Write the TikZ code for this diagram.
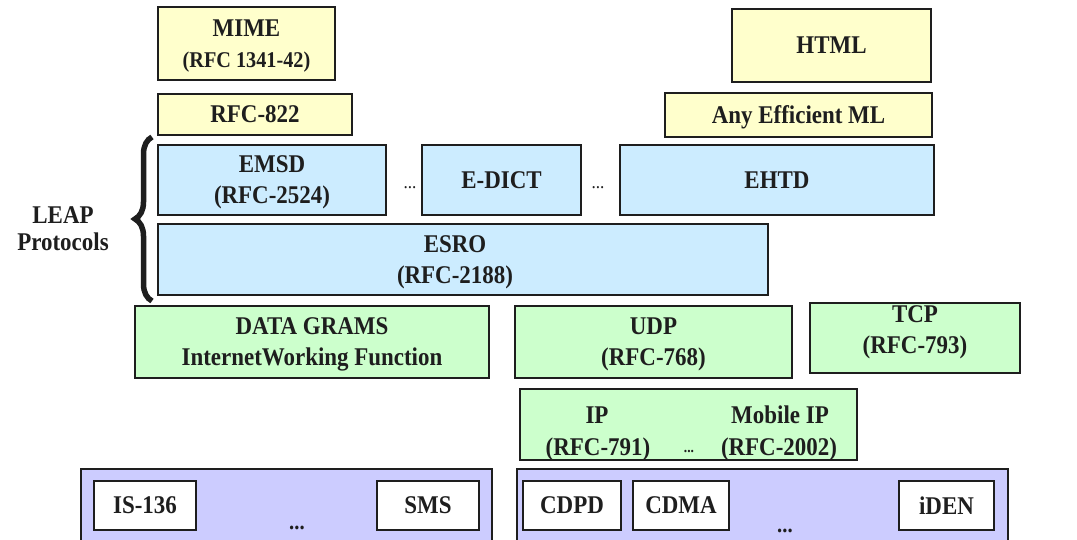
\documentclass[tikz,border=0pt]{standalone}
\usepackage{fontspec}
\setmainfont[FakeStretch=0.9]{Liberation Serif}
\usetikzlibrary{decorations.pathreplacing}
\definecolor{yel}{HTML}{FFFFCC}
\definecolor{blu}{HTML}{CCECFF}
\definecolor{grn}{HTML}{CCFFCC}
\definecolor{lav}{HTML}{CCCCFF}
\definecolor{ink}{HTML}{1E1E1E}
\tikzset{
  box/.style={draw=ink, line width=2.6pt, inner sep=0pt, align=center, text=ink,
    text depth=0pt, font=\fontsize{25.5}{31}\selectfont\bfseries},
  ybox/.style={box, fill=yel},
  bbox/.style={box, fill=blu},
  gbox/.style={box, fill=grn},
  lbox/.style={box, fill=lav},
  wbox/.style={box, fill=white},
  lbl/.style={inner sep=0pt, text=ink, font=\fontsize{25.5}{27}\selectfont\bfseries, anchor=base},
  dots/.style={inner sep=0pt, text=ink, anchor=base},
}
\begin{document}
\begin{tikzpicture}[x=1pt,y=-1pt]
\clip (0,0) rectangle (1077,539);
\fill[white] (0,0) rectangle (1077,539);
% top yellow
\node[ybox, minimum width=177pt, minimum height=73pt] (mime) at (246.5,43.5)
  {MIME\\{\fontsize{22.5}{24}\selectfont (RFC 1341-42)}};
\node[ybox, minimum width=194pt, minimum height=41pt] (rfc822) at (255,114.5) {RFC-822};
\node[ybox, minimum width=199pt, minimum height=73pt] (html) at (831.5,45.5) {HTML};
\node[ybox, minimum width=267pt, minimum height=44pt] (aeml) at (798.5,115) {Any Efficient ML};
% blue LEAP
\node[bbox, minimum width=228pt, minimum height=70pt] (emsd) at (272,180) {EMSD\\(RFC-2524)};
\node[bbox, minimum width=159pt, minimum height=70pt] (edict) at (501.5,180) {E-DICT};
\node[bbox, minimum width=314pt, minimum height=70pt] (ehtd) at (777,180) {EHTD};
\node[bbox, minimum width=610pt, minimum height=71pt] (esro) at (463,259.5) {};
\node[box, draw=none, anchor=center] (esrotxt) at (455,259.5) {ESRO\\(RFC-2188)};
\node[dots, font=\fontsize{19}{19}\selectfont] (d1) at (410,188) {...};
\node[dots, font=\fontsize{19}{19}\selectfont] (d2) at (598,188) {...};
% brace and label
\draw[ink, line width=5.5pt, decorate, decoration={brace, amplitude=17pt, aspect=0.5}]
  (152,301) -- (152,137);
\node[lbl, anchor=center, align=center] (leap) at (63,229) {LEAP\\Protocols};
% green
\node[gbox, minimum width=354pt, minimum height=72pt] (dg) at (312,342)
  {DATA GRAMS\\InternetWorking Function};
\node[gbox, minimum width=277pt, minimum height=72pt] (udp) at (653.5,342) {UDP\\(RFC-768)};
\node[gbox, minimum width=210pt, minimum height=70pt, text depth=16pt] (tcp) at (915,338) {TCP\\(RFC-793)};
\node[gbox, minimum width=337pt, minimum height=71pt] (ip) at (688.5,424.5) {};
\node[lbl] (iptxt) at (597,423) {IP};
\node[lbl] (mip) at (780,423) {Mobile IP};
\node[lbl] (r791) at (598,455) {(RFC-791)};
\node[lbl] (r2002) at (779,455) {(RFC-2002)};
\node[dots, font=\fontsize{15}{15}\selectfont\bfseries] (d3) at (689,452) {...};
% lavender
\node[lbox, minimum width=411pt, minimum height=100pt] (lavl) at (286.5,519) {};
\node[lbox, minimum width=491pt, minimum height=100pt] (lavr) at (762.5,519) {};
\node[wbox, minimum width=102pt, minimum height=49pt] (is136) at (145,505.5) {IS-136};
\node[wbox, minimum width=102pt, minimum height=49pt] (sms) at (428,505.5) {SMS};
\node[wbox, minimum width=98pt, minimum height=49pt] (cdpd) at (572,505.5) {CDPD};
\node[wbox, minimum width=96pt, minimum height=49pt] (cdma) at (681,505.5) {CDMA};
\node[wbox, minimum width=95pt, minimum height=49pt] (iden) at (946.5,505.5) {iDEN};
\node[dots, font=\fontsize{23}{23}\selectfont\bfseries] (d4) at (297,529) {...};
\node[dots, font=\fontsize{23}{23}\selectfont\bfseries] (d5) at (785,532) {...};
\end{tikzpicture}
\end{document}
